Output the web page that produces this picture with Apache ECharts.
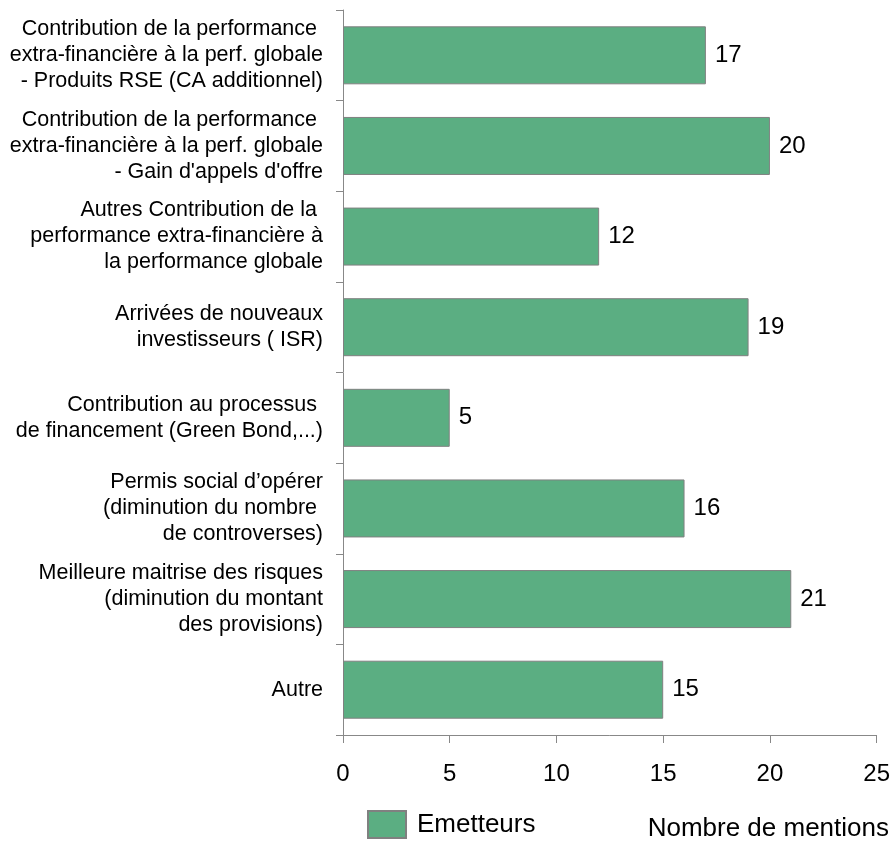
<!DOCTYPE html>
<html>
<head>
<meta charset="utf-8">
<script src="https://cdn.jsdelivr.net/npm/echarts@6/dist/echarts.min.js"></script>
<style>
html, body { margin: 0; padding: 0; background: #fff; }
#chart { width: 893px; height: 841px; }
</style>
</head>
<body>
<div id="chart"></div>
<script>
var categories = [
	'Contribution de la performance \nextra-financière à la perf. globale\n- Produits RSE (CA additionnel)',
	'Contribution de la performance \nextra-financière à la perf. globale\n- Gain d\'appels d\'offre',
	'Autres Contribution de la \nperformance extra-financière à\nla performance globale',
	'Arrivées de nouveaux\ninvestisseurs ( ISR)',
	'Contribution au processus \nde financement (Green Bond,...)',
	'Permis social d\u2019opérer\n(diminution du nombre \nde controverses)',
	'Meilleure maitrise des risques\n(diminution du montant\ndes provisions)',
	'Autre'
];
var emetteurs = [17, 20, 12, 19, 5, 16, 21, 15];
var seriesName = 'Emetteurs';
var axisTitle = 'Nombre de mentions';

var myChart = echarts.init(document.getElementById('chart'));
var font = 'Liberation Sans, Arial, sans-serif';
var option = {
	animation: false,
	grid: { left: 343, right: 16, top: 10, bottom: 106, containLabel: false },
	legend: {
		data: [{ name: seriesName, icon: 'rect' }],
		left: 367, top: 810, padding: 0,
		itemWidth: 38, itemHeight: 27, itemGap: 10,
		textStyle: { fontFamily: font, fontSize: 26, color: '#000', padding: [0, 0, 0, 6] }
	},
	graphic: [{
		type: 'text', right: 4, top: 816,
		style: { text: axisTitle, font: '26px ' + font, fill: '#000' }
	}],
	xAxis: {
		type: 'value', min: 0, max: 25, interval: 5,
		axisLine: { show: true, lineStyle: { color: '#888', width: 1 } },
		axisTick: { show: true, length: 8, inside: false, lineStyle: { color: '#888' } },
		axisLabel: { fontFamily: font, fontSize: 24, color: '#000', margin: 27 },
		splitLine: { show: false }
	},
	yAxis: {
		type: 'category', inverse: true, data: categories,
		axisLine: { show: true, lineStyle: { color: '#888', width: 1 } },
		axisTick: { show: true, length: 7, alignWithLabel: false, lineStyle: { color: '#888' } },
		axisLabel: { fontFamily: font, fontSize: 21.5, color: '#000', lineHeight: 26, margin: 20, align: 'right', interval: 0 }
	},
	series: [{
		name: seriesName, type: 'bar', data: emetteurs,
		barCategoryGap: '36%',
		itemStyle: { color: '#5bae82', borderColor: '#808080', borderWidth: 1 },
		label: { show: true, position: 'right', distance: 9, fontFamily: font, fontSize: 24, color: '#000' }
	}]
};
myChart.setOption(option);
</script>
</body>
</html>
